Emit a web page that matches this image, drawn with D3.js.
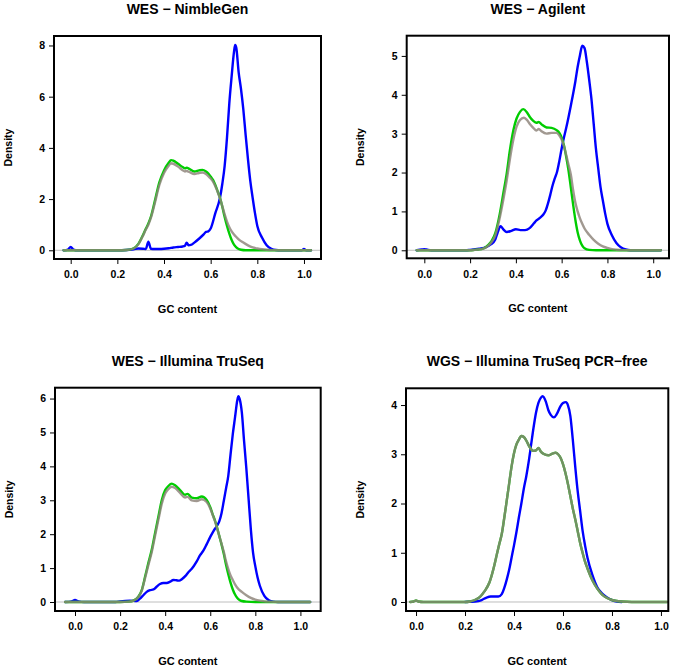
<!DOCTYPE html>
<html>
<head>
<meta charset="utf-8">
<script src="https://cdn.jsdelivr.net/npm/d3@7"></script>
<style>
  html, body { margin: 0; padding: 0; background: #fff; }
  svg { display: block; }
  text { font-family: "Liberation Sans", Arial, Helvetica, sans-serif; font-weight: bold; fill: #000; }
</style>
</head>
<body>
<svg id="chart" width="675" height="667"></svg>
<script>
// ---------------- DATA ----------------
const panelTitles = ["WES \u2212 NimbleGen", "WES \u2212 Agilent", "WES \u2212 Illumina TruSeq", "WGS \u2212 Illumina TruSeq PCR\u2212free"];
const xTickValues = [0, 0.2, 0.4, 0.6, 0.8, 1.0];
const yTickValues = [[0, 2, 4, 6, 8], [0, 1, 2, 3, 4, 5], [0, 1, 2, 3, 4, 5, 6], [0, 1, 2, 3, 4]];
const xLabel = "GC content";
const yLabel = "Density";

// [GC content, density] pairs
const nimbleBlue = [[-0.03,0],[-0.012,0.03],[0,0.13],[0.012,0.03],[0.03,0],[0.2,0],[0.24,0.01],[0.27,0.04],[0.29,0.07],[0.31,0.06],[0.322,0.05],[0.333,0.34],[0.344,0.06],[0.36,0.05],[0.38,0.05],[0.40,0.06],[0.42,0.08],[0.44,0.11],[0.46,0.13],[0.48,0.15],[0.49,0.18],[0.497,0.3],[0.505,0.2],[0.515,0.21],[0.53,0.3],[0.55,0.45],[0.57,0.62],[0.58,0.72],[0.59,0.74],[0.60,0.85],[0.62,1.45],[0.64,2.05],[0.65,2.6],[0.66,3.3],[0.67,4.4],[0.68,5.75],[0.69,6.8],[0.70,7.75],[0.705,8.02],[0.71,7.9],[0.72,6.95],[0.73,6.3],[0.74,5.5],[0.75,4.5],[0.76,3.55],[0.77,2.7],[0.78,2.05],[0.79,1.45],[0.80,0.95],[0.82,0.5],[0.84,0.2],[0.86,0.06],[0.88,0.01],[0.9,0],[0.99,0],[1.0,0.05],[1.01,0],[1.03,0]];
const nimbleGreen = [[-0.03,0],[0.2,0],[0.24,0.01],[0.27,0.08],[0.29,0.25],[0.31,0.6],[0.32,0.8],[0.333,1.05],[0.345,1.35],[0.36,1.9],[0.38,2.65],[0.40,3.12],[0.42,3.42],[0.43,3.52],[0.44,3.5],[0.46,3.38],[0.48,3.25],[0.49,3.2],[0.497,3.23],[0.51,3.17],[0.53,3.08],[0.55,3.12],[0.565,3.14],[0.58,3.08],[0.59,3.0],[0.60,2.88],[0.61,2.75],[0.62,2.55],[0.63,2.3],[0.64,2.05],[0.65,1.7],[0.66,1.3],[0.67,0.95],[0.68,0.65],[0.69,0.4],[0.70,0.22],[0.71,0.11],[0.72,0.05],[0.73,0.02],[0.75,0],[1.03,0]];
const nimbleGrey = [[-0.03,0],[0.2,0],[0.24,0.01],[0.27,0.07],[0.29,0.23],[0.31,0.57],[0.32,0.77],[0.333,1.0],[0.345,1.3],[0.36,1.82],[0.38,2.55],[0.40,3.02],[0.42,3.3],[0.43,3.4],[0.44,3.38],[0.46,3.27],[0.48,3.13],[0.49,3.08],[0.497,3.1],[0.51,3.05],[0.53,2.98],[0.55,3.02],[0.565,3.04],[0.58,2.98],[0.59,2.9],[0.60,2.8],[0.61,2.68],[0.62,2.5],[0.63,2.28],[0.64,2.03],[0.65,1.72],[0.66,1.4],[0.67,1.12],[0.68,0.9],[0.69,0.74],[0.70,0.62],[0.71,0.52],[0.72,0.43],[0.74,0.3],[0.76,0.19],[0.78,0.11],[0.80,0.07],[0.82,0.04],[0.84,0.02],[0.87,0.005],[0.9,0],[1.03,0]];

const agilentBlue = [[-0.033,0],[-0.01,0.02],[0,0.03],[0.01,0.02],[0.03,0],[0.18,0],[0.2,0.01],[0.24,0.04],[0.27,0.08],[0.29,0.15],[0.31,0.28],[0.32,0.45],[0.333,0.62],[0.345,0.54],[0.36,0.47],[0.38,0.5],[0.40,0.54],[0.42,0.52],[0.44,0.52],[0.46,0.57],[0.48,0.7],[0.49,0.77],[0.50,0.81],[0.51,0.86],[0.52,0.92],[0.53,1.02],[0.54,1.2],[0.55,1.42],[0.56,1.66],[0.57,1.85],[0.58,2.02],[0.59,2.3],[0.60,2.62],[0.61,2.9],[0.62,3.15],[0.64,3.72],[0.66,4.35],[0.67,4.72],[0.68,5.02],[0.69,5.26],[0.70,5.2],[0.71,4.85],[0.72,4.4],[0.73,3.9],[0.74,3.25],[0.75,2.6],[0.76,2.1],[0.77,1.62],[0.78,1.28],[0.79,0.95],[0.80,0.68],[0.82,0.38],[0.84,0.18],[0.86,0.07],[0.88,0.02],[0.9,0],[1.033,0]];
const agilentGreen = [[-0.033,0],[0.2,0],[0.22,0.01],[0.25,0.03],[0.28,0.14],[0.295,0.25],[0.31,0.44],[0.33,0.95],[0.345,1.46],[0.36,1.98],[0.374,2.58],[0.389,3.09],[0.403,3.39],[0.418,3.56],[0.432,3.63],[0.447,3.56],[0.461,3.43],[0.476,3.33],[0.49,3.28],[0.50,3.3],[0.512,3.24],[0.534,3.16],[0.556,3.15],[0.578,3.09],[0.59,3.02],[0.60,2.9],[0.61,2.7],[0.62,2.4],[0.63,2.05],[0.64,1.62],[0.65,1.18],[0.66,0.78],[0.67,0.46],[0.68,0.25],[0.69,0.12],[0.70,0.05],[0.72,0.01],[0.75,0],[1.033,0]];
const agilentGrey = [[-0.033,0],[0.2,0],[0.22,0.01],[0.25,0.03],[0.28,0.12],[0.295,0.22],[0.31,0.38],[0.33,0.85],[0.345,1.3],[0.36,1.8],[0.374,2.35],[0.389,2.85],[0.403,3.18],[0.418,3.35],[0.435,3.41],[0.447,3.36],[0.461,3.25],[0.476,3.15],[0.49,3.08],[0.50,3.12],[0.512,3.06],[0.534,3.0],[0.556,3.02],[0.578,3.02],[0.59,2.95],[0.60,2.85],[0.61,2.68],[0.62,2.45],[0.63,2.2],[0.64,1.95],[0.65,1.55],[0.66,1.22],[0.67,1.0],[0.68,0.82],[0.69,0.68],[0.70,0.56],[0.72,0.4],[0.74,0.27],[0.76,0.17],[0.78,0.1],[0.80,0.06],[0.82,0.03],[0.84,0.015],[0.87,0.003],[0.9,0],[1.033,0]];

const truseqBlue = [[-0.044,0],[-0.015,0.02],[0,0.06],[0.015,0.02],[0.04,0],[0.18,0],[0.2,0.02],[0.244,0.04],[0.274,0.03],[0.288,0.1],[0.303,0.2],[0.318,0.3],[0.333,0.35],[0.348,0.37],[0.362,0.45],[0.377,0.53],[0.392,0.56],[0.407,0.56],[0.422,0.6],[0.436,0.65],[0.45,0.64],[0.462,0.63],[0.475,0.68],[0.49,0.77],[0.503,0.88],[0.518,0.98],[0.54,1.2],[0.555,1.38],[0.57,1.52],[0.584,1.7],[0.6,1.92],[0.615,2.1],[0.63,2.25],[0.64,2.38],[0.65,2.62],[0.66,2.98],[0.67,3.35],[0.68,3.72],[0.69,4.35],[0.70,4.95],[0.71,5.45],[0.72,5.95],[0.725,6.07],[0.73,6.0],[0.74,5.6],[0.75,4.75],[0.76,3.95],[0.77,3.05],[0.78,2.15],[0.79,1.45],[0.80,1.05],[0.81,0.72],[0.82,0.48],[0.84,0.18],[0.86,0.05],[0.88,0.01],[0.9,0],[1.043,0]];
const truseqGreen = [[-0.044,0],[0.2,0],[0.24,0.01],[0.259,0.04],[0.281,0.16],[0.296,0.35],[0.311,0.75],[0.325,1.14],[0.34,1.53],[0.355,2.03],[0.37,2.52],[0.385,3.01],[0.40,3.3],[0.414,3.42],[0.429,3.49],[0.444,3.44],[0.466,3.3],[0.488,3.16],[0.499,3.19],[0.518,3.08],[0.54,3.06],[0.562,3.11],[0.584,3.01],[0.60,2.8],[0.61,2.6],[0.62,2.42],[0.63,2.2],[0.64,1.95],[0.65,1.7],[0.66,1.42],[0.67,1.1],[0.68,0.82],[0.69,0.57],[0.70,0.37],[0.71,0.22],[0.72,0.12],[0.73,0.06],[0.74,0.03],[0.76,0.01],[0.8,0],[1.043,0]];
const truseqGrey = [[-0.044,0],[0.2,0],[0.24,0.01],[0.259,0.04],[0.281,0.15],[0.296,0.33],[0.311,0.71],[0.325,1.08],[0.34,1.46],[0.355,1.95],[0.37,2.43],[0.385,2.9],[0.40,3.2],[0.414,3.33],[0.429,3.4],[0.444,3.36],[0.466,3.22],[0.488,3.08],[0.499,3.1],[0.518,3.0],[0.54,2.98],[0.562,3.03],[0.584,2.95],[0.60,2.76],[0.61,2.58],[0.62,2.4],[0.63,2.18],[0.64,1.95],[0.65,1.72],[0.66,1.48],[0.67,1.2],[0.68,0.97],[0.69,0.78],[0.70,0.65],[0.71,0.52],[0.72,0.42],[0.74,0.3],[0.76,0.2],[0.78,0.12],[0.80,0.07],[0.82,0.04],[0.84,0.02],[0.86,0.01],[0.9,0],[1.043,0]];

const wgsBlue = [[0.2,0],[0.22,0.005],[0.241,0.01],[0.268,0.04],[0.288,0.09],[0.305,0.11],[0.32,0.11],[0.336,0.11],[0.35,0.16],[0.36,0.28],[0.37,0.45],[0.38,0.65],[0.39,0.9],[0.40,1.15],[0.41,1.42],[0.42,1.72],[0.43,2.0],[0.44,2.3],[0.45,2.55],[0.46,2.85],[0.47,3.2],[0.48,3.55],[0.49,3.85],[0.50,4.05],[0.51,4.15],[0.517,4.18],[0.53,4.07],[0.54,3.9],[0.55,3.8],[0.563,3.75],[0.575,3.82],[0.59,3.98],[0.60,4.04],[0.612,4.06],[0.62,4.0],[0.63,3.78],[0.64,3.3],[0.65,2.75],[0.66,2.25],[0.67,1.85],[0.68,1.45],[0.69,1.15],[0.70,0.9],[0.72,0.55],[0.74,0.3],[0.76,0.17],[0.78,0.09],[0.80,0.04],[0.82,0.01],[0.84,0]];
const wgsGreen = [[-0.024,0],[-0.01,0.01],[0,0.03],[0.01,0.01],[0.03,0],[0.2,0],[0.22,0.01],[0.24,0.04],[0.26,0.1],[0.28,0.22],[0.30,0.4],[0.32,0.75],[0.33,0.97],[0.34,1.18],[0.35,1.38],[0.36,1.7],[0.37,2.05],[0.38,2.4],[0.39,2.75],[0.40,3.02],[0.41,3.2],[0.42,3.3],[0.43,3.37],[0.44,3.35],[0.45,3.28],[0.46,3.18],[0.47,3.1],[0.48,3.07],[0.49,3.08],[0.50,3.13],[0.51,3.05],[0.52,3.01],[0.54,2.98],[0.56,3.02],[0.57,3.03],[0.58,3.0],[0.59,2.93],[0.60,2.8],[0.61,2.62],[0.62,2.4],[0.63,2.15],[0.64,1.9],[0.65,1.68],[0.66,1.44],[0.67,1.2],[0.68,1.0],[0.69,0.82],[0.70,0.68],[0.72,0.44],[0.74,0.27],[0.76,0.15],[0.78,0.08],[0.80,0.04],[0.82,0.02],[0.84,0.01],[0.88,0],[1.025,0]];
const wgsGrey = [[-0.024,0],[-0.01,0.01],[0,0.03],[0.01,0.01],[0.03,0],[0.2,0],[0.22,0.01],[0.24,0.04],[0.26,0.1],[0.28,0.22],[0.30,0.4],[0.32,0.75],[0.33,0.97],[0.34,1.18],[0.35,1.38],[0.36,1.7],[0.37,2.05],[0.38,2.4],[0.39,2.75],[0.40,3.02],[0.41,3.2],[0.42,3.3],[0.43,3.37],[0.44,3.35],[0.45,3.28],[0.46,3.18],[0.47,3.1],[0.48,3.07],[0.49,3.08],[0.50,3.13],[0.51,3.05],[0.52,3.01],[0.54,2.98],[0.56,3.02],[0.57,3.03],[0.58,3.0],[0.59,2.93],[0.60,2.8],[0.61,2.62],[0.62,2.4],[0.63,2.15],[0.64,1.9],[0.65,1.68],[0.66,1.44],[0.67,1.2],[0.68,1.0],[0.69,0.82],[0.70,0.68],[0.72,0.44],[0.74,0.27],[0.76,0.15],[0.78,0.08],[0.80,0.04],[0.82,0.02],[0.84,0.01],[0.88,0],[1.025,0]];

const panelSeries = [
  [nimbleBlue, nimbleGreen, nimbleGrey],
  [agilentBlue, agilentGreen, agilentGrey],
  [truseqBlue, truseqGreen, truseqGrey],
  [wgsBlue, wgsGreen, wgsGrey]
];

// ---------------- LAYOUT / STYLE ----------------
const seriesColors = ["#0000ff", "#00cd00", "#8c8279"];
const seriesOpacity = [1, 1, 0.82];
const boxes = [
  {x0: 54, x1: 321, y0: 36, y1: 259, xd: [-0.0716, 1.073], yd: [-0.34, 8.37]},
  {x0: 406.7, x1: 669, y0: 35.7, y1: 258.3, xd: [-0.077, 1.069], yd: [-0.206, 5.52]},
  {x0: 55, x1: 320.7, y0: 387.7, y1: 611, xd: [-0.0888, 1.09], yd: [-0.265, 6.32]},
  {x0: 406, x1: 668.3, y0: 388.3, y1: 611, xd: [-0.041, 1.03], yd: [-0.183, 4.34]}
];

const svg = d3.select("#chart");

boxes.forEach((b, i) => {
  const x = d3.scaleLinear().domain(b.xd).range([b.x0, b.x1]);
  const y = d3.scaleLinear().domain(b.yd).range([b.y1, b.y0]);
  const g = svg.append("g");

  const clipId = "clip" + i;
  svg.append("clipPath").attr("id", clipId)
    .append("rect").attr("x", b.x0).attr("y", b.y0)
    .attr("width", b.x1 - b.x0).attr("height", b.y1 - b.y0);

  // zero reference line
  g.append("line")
    .attr("x1", b.x0).attr("x2", b.x1)
    .attr("y1", y(0)).attr("y2", y(0))
    .attr("stroke", "#bebebe").attr("stroke-width", 1);

  const line = d3.line()
    .x(d => x(d[0])).y(d => y(d[1]))
    .curve(d3.curveMonotoneX);

  const lines = g.append("g").attr("clip-path", `url(#${clipId})`);
  panelSeries[i].forEach((s, k) => {
    lines.append("path")
      .datum(s)
      .attr("d", line)
      .attr("fill", "none")
      .attr("stroke", seriesColors[k])
      .attr("stroke-opacity", seriesOpacity[k])
      .attr("stroke-width", 2.4)
      .attr("stroke-linejoin", "round")
      .attr("stroke-linecap", "round");
  });

  // axes
  const xAxis = d3.axisBottom(x).tickValues(xTickValues).tickFormat(d3.format(".1f"))
    .tickSize(5).tickPadding(7);
  const gx = g.append("g").attr("transform", `translate(0,${b.y1})`).call(xAxis);
  gx.select(".domain").remove();
  gx.selectAll("line").attr("stroke", "#000").attr("stroke-width", 1);
  gx.selectAll("text").attr("font-size", 10.5).attr("font-family", '"Liberation Sans", Arial, sans-serif').attr("font-weight", "bold");

  const yAxis = d3.axisLeft(y).tickValues(yTickValues[i]).tickFormat(d3.format("d"))
    .tickSize(5).tickPadding(4);
  const gy = g.append("g").attr("transform", `translate(${b.x0},0)`).call(yAxis);
  gy.select(".domain").remove();
  gy.selectAll("line").attr("stroke", "#000").attr("stroke-width", 1);
  gy.selectAll("text").attr("font-size", 10.5).attr("font-family", '"Liberation Sans", Arial, sans-serif').attr("font-weight", "bold");

  // frame
  g.append("rect")
    .attr("x", b.x0).attr("y", b.y0)
    .attr("width", b.x1 - b.x0).attr("height", b.y1 - b.y0)
    .attr("fill", "none").attr("stroke", "#000").attr("stroke-width", 2);

  // titles
  g.append("text")
    .attr("x", (b.x0 + b.x1) / 2).attr("y", b.y0 - 22)
    .attr("text-anchor", "middle").attr("font-size", 14)
    .text(panelTitles[i]);
  g.append("text")
    .attr("x", (b.x0 + b.x1) / 2).attr("y", b.y1 + 54)
    .attr("text-anchor", "middle").attr("font-size", 11)
    .text(xLabel);
  g.append("text")
    .attr("transform", `translate(${b.x0 - 42.5},${(b.y0 + b.y1) / 2}) rotate(-90)`)
    .attr("text-anchor", "middle").attr("font-size", 10.5)
    .text(yLabel);
});
</script>
</body>
</html>
